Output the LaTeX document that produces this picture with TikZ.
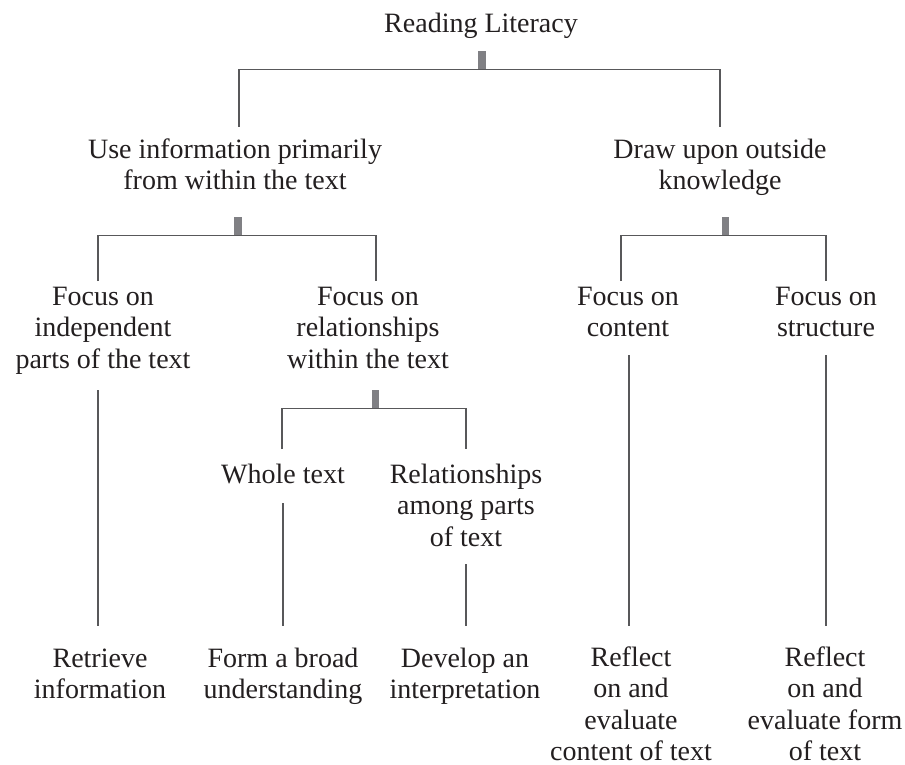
\documentclass[tikz,border=0pt]{standalone}
\usepackage{fontspec}
\setmainfont{Liberation Serif}
\usetikzlibrary{calc}
\definecolor{txtcol}{RGB}{35,31,32}
\definecolor{linecol}{RGB}{88,88,90}
\definecolor{barcol}{RGB}{128,128,132}
\tikzset{
  lbl/.style={anchor=base, align=center, inner sep=0pt, text=txtcol,
    font=\fontsize{28}{31.5}\selectfont},
  bar/.style={rectangle, fill=barcol, draw=none, inner sep=0pt,
    minimum width=7.5pt, minimum height=18pt},
  conn/.style={draw=linecol, line width=1.1pt}
}
\begin{document}
\begin{tikzpicture}[x=1pt,y=-1pt]
\useasboundingbox[fill=white] (0,0) rectangle (905,765);
% texts (anchored at the baseline of their last line)
\node[lbl] (root) at (481,33) {Reading Literacy};
\node[lbl] (L2a) at (235,189.5) {Use information primarily\\from within the text};
\node[lbl] (L2b) at (720,189.5) {Draw upon outside\\knowledge};
\node[lbl] (L3a) at (103,368) {Focus on\\independent\\parts of the text};
\node[lbl] (L3b) at (368,368) {Focus on\\relationships\\within the text};
\node[lbl] (L3c) at (628,336.5) {Focus on\\content};
\node[lbl] (L3d) at (826,336.5) {Focus on\\structure};
\node[lbl] (L4a) at (283,483) {Whole text};
\node[lbl] (L4b) at (466,546) {Relationships\\among parts\\of text};
\node[lbl] (B1) at (100,698.5) {Retrieve\\information};
\node[lbl] (B2) at (283,698.5) {Form a broad\\understanding};
\node[lbl] (B3) at (465,698.5) {Develop an\\interpretation};
\node[lbl] (B4) at (631,760.5) {Reflect\\on and\\evaluate\\content of text};
\node[lbl] (B5) at (825,760.5) {Reflect\\on and\\evaluate form\\of text};
% bars
\node[bar] (rootbar) at (482,60) {};
\node[bar] (L2abar) at (238,226) {};
\node[bar] (L2bbar) at (725.5,226) {};
\node[bar] (L3bbar) at (375.5,399) {};
% branch connectors
\draw[conn] ($(L2a.base)+(4,-62.5)$) |- (rootbar.south) -| ($(L2b.base)+(0,-62.5)$);
\draw[conn] ($(L3a.base)+(-5,-87)$) |- (L2abar.south) -| ($(L3b.base)+(8,-87)$);
\draw[conn] ($(L3c.base)+(-7,-55.5)$) |- (L2bbar.south) -| ($(L3d.base)+(0,-55.5)$);
\draw[conn] ($(L4a.base)+(-1,-34)$) |- (L3bbar.south) -| ($(L4b.base)+(0,-97)$);
% vertical connectors
\draw[conn] ($(L3a.base)+(-5,22)$) -- ($(B1.base)+(-2,-72.5)$);
\draw[conn] ($(L4a.base)+(0,20)$) -- ($(B2.base)+(0,-72.5)$);
\draw[conn] ($(L4b.base)+(0,18)$) -- ($(B3.base)+(1,-72.5)$);
\draw[conn] ($(L3c.base)+(1,18.5)$) -- ($(B4.base)+(-2,-134.5)$);
\draw[conn] ($(L3d.base)+(0,18.5)$) -- ($(B5.base)+(1,-134.5)$);
\end{tikzpicture}
\end{document}
